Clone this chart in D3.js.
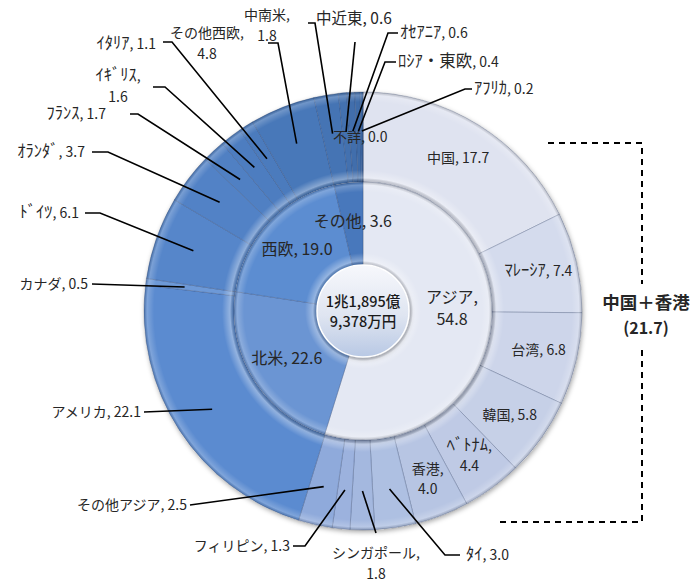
<!DOCTYPE html>
<html lang="ja">
<head>
<meta charset="utf-8">
<script src="https://cdnjs.cloudflare.com/ajax/libs/d3/7.8.5/d3.min.js"></script>
<style>
body { margin: 0; background: #fff; }
svg text { font-family: "Noto Sans CJK JP", sans-serif; fill: #262626; }
</style>
</head>
<body>
<script>
// inner ring: regions
var regions = ["アジア", "北米", "西欧", "その他"]
var regionValues = [54.8, 22.6, 19.0, 3.6]
var regionColors = ["#e4e8f3", "#6b95d3", "#5c8dd1", "#4878bc"]

// outer ring: countries (clockwise from top)
var countries = ["中国", "ﾏﾚｰｼｱ", "台湾", "韓国", "ﾍﾞﾄﾅﾑ", "香港", "ﾀｲ", "シンガポール", "フィリピン", "その他アジア",
    "アメリカ", "カナダ",
    "ﾄﾞｲﾂ", "ｵﾗﾝﾀﾞ", "ﾌﾗﾝｽ", "ｲｷﾞﾘｽ", "ｲﾀﾘｱ", "その他西欧",
    "中南米", "中近東", "ｵｾｱﾆｱ", "ﾛｼｱ・東欧", "ｱﾌﾘｶ", "不詳"]
var countryValues = [17.7, 7.4, 6.8, 5.8, 4.4, 4.0, 3.0, 1.8, 1.3, 2.5,
    22.1, 0.5,
    6.1, 3.7, 1.7, 1.6, 1.1, 4.8,
    1.8, 0.6, 0.6, 0.4, 0.2, 0.0]
var countryColors = ["#dfe3f0", "#d4dbed", "#cdd5ea", "#c6d0e7", "#bfcae5", "#b7c5e3", "#aec0e2", "#a4b8df", "#9cb2de", "#8faadb",
    "#5b8bd0", "#6d99d7",
    "#5686ca", "#5282c6", "#5080c3", "#4d7dc0", "#4b7bbd", "#4878b9",
    "#4574b4", "#4371b0", "#416eac", "#3f6ca9", "#3d69a6", "#3a66a3"]

var totalLines = ["1兆1,895億", "9,378万円"]
var bracketLines = ["中国＋香港", "(21.7)"]

var w = 692, h = 582
var cx = 363, cy = 311
var rHole = 46, rInner = 129, rOuter = 219

// outside labels: text anchor point (first line centre) and where the leader starts
var outsideLabels = {
    "アメリカ":     { x: 141, y: 412, anchor: "end", start: [144, 412] },
    "その他アジア": { x: 187, y: 505, anchor: "end", start: [190, 505] },
    "フィリピン":   { x: 290, y: 546, anchor: "end", start: [293, 546], elbow: [305, 546] },
    "シンガポール": { x: 376, y: 553, anchor: "middle", split: true, start: [376, 533] },
    "ﾀｲ":           { x: 466, y: 555, anchor: "start", start: [460, 555], elbow: [445, 555] },
    "カナダ":       { x: 88, y: 284, anchor: "end", start: [92, 284] },
    "ﾄﾞｲﾂ":         { x: 79, y: 213, anchor: "end", start: [85, 213], elbow: [100, 213] },
    "ｵﾗﾝﾀﾞ":        { x: 85, y: 152, anchor: "end", start: [92, 152], elbow: [108, 152] },
    "ﾌﾗﾝｽ":         { x: 106, y: 114, anchor: "end", start: [130, 114], elbow: [138, 114] },
    "ｲｷﾞﾘｽ":        { x: 118, y: 76, anchor: "middle", split: true, start: [153, 87], elbow: [165, 87] },
    "ｲﾀﾘｱ":         { x: 156, y: 44, anchor: "end", start: [163, 42], elbow: [172, 42] },
    "その他西欧":   { x: 207, y: 33, anchor: "middle", split: true, start: [268, 43], elbow: [278, 43] },
    "中南米":       { x: 267, y: 15, anchor: "middle", split: true, start: [308, 23], elbow: [315, 23] },
    "中近東":       { x: 316, y: 19, anchor: "start", size: 15.5, start: [355, 42] },
    "ｵｾｱﾆｱ":        { x: 400, y: 33, anchor: "start", start: [398, 33], elbow: [388, 33] },
    "ﾛｼｱ・東欧":    { x: 398, y: 62, anchor: "start", start: [396, 62], elbow: [385, 62] },
    "ｱﾌﾘｶ":         { x: 474, y: 89, anchor: "start", start: [472, 89], elbow: [465, 89] },
    "不詳":         { x: 333, y: 137, anchor: "start" }
}
var splitInside = { "ﾍﾞﾄﾅﾑ": true, "香港": true }

var svg = d3.select("body").append("svg")
    .attr("width", w)
    .attr("height", h)

var defs = svg.append("defs")

function dropShadow(id, sd, op) {
    defs.append("filter").attr("id", id)
        .attr("x", "-20%").attr("y", "-20%").attr("width", "140%").attr("height", "140%")
        .append("feDropShadow").attr("dx", 1).attr("dy", 2).attr("stdDeviation", sd)
        .attr("flood-color", "#000").attr("flood-opacity", op)
}
dropShadow("shadow", 2.5, 0.35)
dropShadow("shadowSoft", 2, 0.2)

// bevel-ish shading over a ring, centred on 0,0 (paths are translated)
function ringShade(id, r0, r1) {
    var g = defs.append("radialGradient").attr("id", id)
        .attr("gradientUnits", "userSpaceOnUse")
        .attr("cx", 0).attr("cy", 0).attr("r", r1)
    var stops = [
        [r0 / r1, "#000", 0.12],
        [(r0 + 4) / r1, "#fff", 0.35],
        [(r0 + 12) / r1, "#fff", 0.0],
        [(r1 - 10) / r1, "#fff", 0.0],
        [(r1 - 3) / r1, "#fff", 0.22],
        [1, "#000", 0.15]
    ]
    stops.forEach(function(s) {
        g.append("stop").attr("offset", s[0]).attr("stop-color", s[1]).attr("stop-opacity", s[2])
    })
}
ringShade("shadeOuter", rInner, rOuter)
ringShade("shadeInner", rHole, rInner)

var hole = defs.append("linearGradient").attr("id", "hole")
    .attr("x1", 0).attr("y1", 0).attr("x2", 0).attr("y2", 1)
hole.append("stop").attr("offset", 0).attr("stop-color", "#f7f8fc")
hole.append("stop").attr("offset", 0.55).attr("stop-color", "#dfe5f1")
hole.append("stop").attr("offset", 1).attr("stop-color", "#b8c8e4")

var pie = d3.pie().sort(null).value(function(d) { return d })
var outerArcs = pie(countryValues)
var innerArcs = pie(regionValues)

var arcOuter = d3.arc().innerRadius(rInner).outerRadius(rOuter)
var arcInner = d3.arc().innerRadius(rHole).outerRadius(rInner)

function polar(a, r) {
    var t = (a.startAngle + a.endAngle) / 2
    return [cx + r * Math.sin(t), cy - r * Math.cos(t)]
}

// outer ring
var outerG = svg.append("g").attr("transform", "translate(" + cx + "," + cy + ")")

outerG.append("circle").attr("r", rOuter).attr("fill", "#fff").attr("filter", "url(#shadow)")

outerG.selectAll("path.outer")
    .data(outerArcs)
    .enter()
    .append("path")
    .attr("class", "outer")
    .attr("d", arcOuter)
    .attr("fill", function(d, i) { return countryColors[i] })
    .attr("stroke", "rgba(40,60,100,0.35)")
    .attr("stroke-width", 0.8)

outerG.append("path")
    .attr("d", d3.arc().innerRadius(rInner).outerRadius(rOuter).startAngle(0).endAngle(2 * Math.PI)())
    .attr("fill", "url(#shadeOuter)")

// inner ring
var innerG = svg.append("g").attr("transform", "translate(" + cx + "," + cy + ")")

innerG.append("circle").attr("r", rInner).attr("fill", "#fff").attr("filter", "url(#shadowSoft)")

innerG.selectAll("path.inner")
    .data(innerArcs)
    .enter()
    .append("path")
    .attr("class", "inner")
    .attr("d", arcInner)
    .attr("fill", function(d, i) { return regionColors[i] })
    .attr("stroke", "rgba(40,60,100,0.35)")
    .attr("stroke-width", 0.8)

innerG.append("path")
    .attr("d", d3.arc().innerRadius(rHole).outerRadius(rInner).startAngle(0).endAngle(2 * Math.PI)())
    .attr("fill", "url(#shadeInner)")

innerG.append("circle")
    .attr("r", rHole)
    .attr("fill", "url(#hole)")
    .attr("stroke", "#fff")
    .attr("stroke-width", 1.5)
    .attr("filter", "url(#shadowSoft)")

innerG.selectAll("text.total")
    .data(totalLines)
    .enter()
    .append("text")
    .attr("class", "total")
    .attr("x", 0)
    .attr("y", function(d, i) { return -9 + i * 20 })
    .attr("dy", "0.35em")
    .attr("text-anchor", "middle")
    .attr("font-size", "14.5px")
    .attr("font-weight", 500)
    .style("fill", "#1a1a1a")
    .text(function(d) { return d })

// half-width katakana names get a bigger size so they read like the original
var halfWidth = /[\uFF61-\uFF9F]/
function addText(g, x, y, anchor, name, rest, size) {
    var t = g.append("text")
        .attr("x", x)
        .attr("y", y)
        .attr("dy", "0.35em")
        .attr("text-anchor", anchor)
        .attr("font-size", size + "px")
    if (name) {
        t.append("tspan")
            .attr("font-size", (halfWidth.test(name) ? size + 2.5 : size) + "px")
            .text(name)
    }
    if (rest) t.append("tspan").text(rest)
}

// inner labels
var innerLabelG = svg.append("g")
innerArcs.forEach(function(a, i) {
    var p = polar(a, 90)
    var val = regionValues[i].toFixed(1)
    if (i == 0) {
        addText(innerLabelG, p[0], p[1] - 27, "middle", regions[i], ",", 16)
        addText(innerLabelG, p[0], p[1] - 5, "middle", null, val, 16)
    } else {
        addText(innerLabelG, p[0], p[1], "middle", regions[i], ", " + val, 16)
    }
})

// outer labels + leader lines
var labelG = svg.append("g")
var lineG = svg.append("g")
outerArcs.forEach(function(a, i) {
    var name = countries[i]
    var val = countryValues[i].toFixed(1)
    var L = outsideLabels[name]
    if (!L) {
        var p = polar(a, 180)
        if (splitInside[name]) {
            addText(labelG, p[0], p[1] - 10, "middle", name, ",", 14)
            addText(labelG, p[0], p[1] + 10, "middle", null, val, 14)
        } else {
            addText(labelG, p[0], p[1], "middle", name, ", " + val, 14)
        }
        return
    }
    var size = L.size || 14
    if (L.split) {
        addText(labelG, L.x, L.y, L.anchor, name, ",", size)
        addText(labelG, L.x, L.y + 21, L.anchor, null, val, size)
    } else {
        addText(labelG, L.x, L.y, L.anchor, name, ", " + val, size)
    }
    if (L.start) {
        var pts = [L.start]
        if (L.elbow) pts.push(L.elbow)
        pts.push(polar(a, 180))
        lineG.append("path")
            .attr("d", d3.line()(pts))
            .attr("fill", "none")
            .attr("stroke", "#000")
            .attr("stroke-width", 1.6)
    }
})

// China + Hong Kong bracket
var topY = 143, botY = 522, bx = 642
var bracket = svg.append("g")
    .attr("fill", "none")
    .attr("stroke", "#000")
    .attr("stroke-width", 2)
    .attr("stroke-dasharray", "6,5")
bracket.append("path").attr("d", d3.line()([[548, topY], [bx, topY], [bx, 284]]))
bracket.append("path").attr("d", d3.line()([[bx, 350], [bx, botY], [500, botY]]))

svg.selectAll("text.bracket")
    .data(bracketLines)
    .enter()
    .append("text")
    .attr("class", "bracket")
    .attr("x", 646)
    .attr("y", function(d, i) { return 303 + i * 25 })
    .attr("dy", "0.35em")
    .attr("text-anchor", "middle")
    .attr("font-size", function(d, i) { return i == 0 ? "17.5px" : "16px" })
    .attr("font-weight", "bold")
    .text(function(d) { return d })
</script>
</body>
</html>
